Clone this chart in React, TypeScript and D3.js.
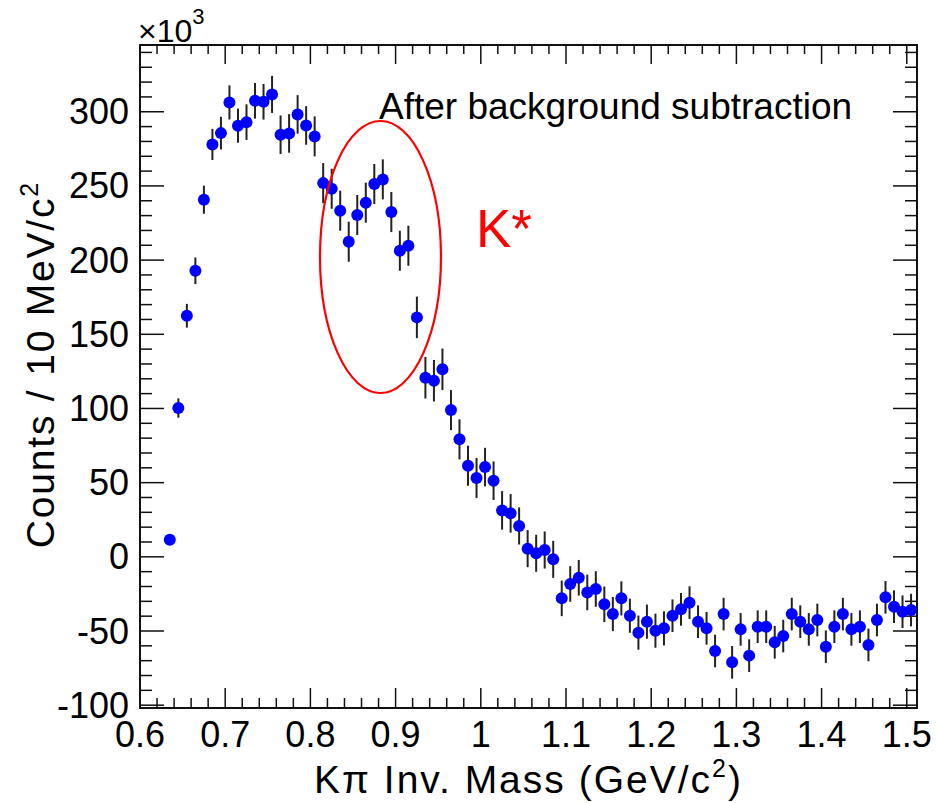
import React from "react";
import * as d3 from "d3";

const masses = [
  0.635, 0.645, 0.655, 0.665, 0.675, 0.685, 0.695, 0.705, 0.715, 0.725,
  0.735, 0.745, 0.755, 0.765, 0.775, 0.785, 0.795, 0.805, 0.815, 0.825,
  0.835, 0.845, 0.855, 0.865, 0.875, 0.885, 0.895, 0.905, 0.915, 0.925,
  0.935, 0.945, 0.955, 0.965, 0.975, 0.985, 0.995, 1.005, 1.015, 1.025,
  1.035, 1.045, 1.055, 1.065, 1.075, 1.085, 1.095, 1.105, 1.115, 1.125,
  1.135, 1.145, 1.155, 1.165, 1.175, 1.185, 1.195, 1.205, 1.215, 1.225,
  1.235, 1.245, 1.255, 1.265, 1.275, 1.285, 1.295, 1.305, 1.315, 1.325,
  1.335, 1.345, 1.355, 1.365, 1.375, 1.385, 1.395, 1.405, 1.415, 1.425,
  1.435, 1.445, 1.455, 1.465, 1.475, 1.485, 1.495, 1.505,
];

const counts = [
  11.5, 100.3, 162.5, 192.8, 240.7, 278, 285.6, 306.3, 290.6, 293,
  307.4, 306.7, 311.7, 284.5, 285.4, 298.2, 290.8, 283.4, 251.9, 248.1,
  233.3, 212.4, 230.4, 238.7, 251.3, 254.4, 232.4, 206.3, 209.7, 161.4,
  120.7, 118.7, 126.4, 98.9, 79.2, 61.4, 53.1, 60.5, 51.3, 31.3,
  29.3, 20.8, 5.5, 2.4, 4.6, -1.7, -28, -18.3, -14.1, -24,
  -21.7, -32, -38.6, -28, -39.7, -51.1, -43.7, -49.8, -48.2, -39.7,
  -35.4, -30.9, -43.7, -48.2, -63.5, -38.6, -71.1, -48.9, -66.6, -47.1,
  -47.1, -57.6, -53.4, -38.6, -43.7, -48.9, -42.6, -60.6, -47.1, -38.6,
  -48.9, -47.1, -59.4, -42.6, -27.3, -33.6, -37, -35.9,
];

const errors = [
  3, 6.5, 8, 9, 9.5, 10.5, 11, 11.5, 11.5, 12,
  12, 12, 12.5, 13, 13, 13, 13, 13.5, 13.5, 13.5,
  13.5, 13.5, 13.5, 13.5, 13.5, 13.5, 13.5, 13.5, 13.5, 14,
  14, 14, 14, 13.5, 13.5, 13.5, 13.5, 13, 13, 13,
  13, 12.5, 12.5, 12.5, 12.5, 12.5, 12, 12, 12, 12,
  12, 12, 11.5, 11.5, 11.5, 11.5, 11.5, 11.5, 11.5, 11,
  11, 11, 11, 11, 11, 11, 11, 11, 11, 11,
  11, 11, 11, 11, 11, 11, 11, 11, 11, 11,
  11, 11, 11, 11, 11, 11, 11, 11,
];

const xMajorTicks = [0.6, 0.7, 0.8, 0.9, 1.0, 1.1, 1.2, 1.3, 1.4, 1.5];
const xTickLabels = ["0.6", "0.7", "0.8", "0.9", "1", "1.1", "1.2", "1.3", "1.4", "1.5"];
const yMajorTicks = [-100, -50, 0, 50, 100, 150, 200, 250, 300];
const yTickLabels = ["-100", "-50", "0", "50", "100", "150", "200", "250", "300"];

const W = 937;
const H = 803;
const L = 140;
const R = 917;
const T = 45;
const B = 708;
const FONT = "'Liberation Sans', Arial, Helvetica, sans-serif";

export default function App() {
  const x = d3.scaleLinear().domain([0.6, 1.512]).range([L, R]);
  const y = d3.scaleLinear().domain([-101.9, 345]).range([B, T]);

  const xMinor = d3.range(0, 46).map((i) => 0.6 + i * 0.02).filter((v) => v <= 1.512);
  const yMinor = d3.range(0, 45).map((i) => -100 + i * 10).filter((v) => v <= 345);

  const axisColor = "#111";

  return (
    <svg
      width={W}
      height={H}
      style={{ position: "absolute", left: 0, top: 0, background: "#fff" }}
      fontFamily={FONT}
    >
      <rect x={0} y={0} width={W} height={H} fill="#fff" />
      {/* ticks */}
      <g stroke={axisColor} strokeWidth={1.5}>
        {xMinor.map((v, i) => {
          const isMajor = Math.abs(Math.round(v * 10) / 10 - v) < 1e-6;
          const len = isMajor ? 20 : 10;
          return (
            <g key={"xm" + i}>
              <line x1={x(v)} x2={x(v)} y1={B} y2={B - len} />
              <line x1={x(v)} x2={x(v)} y1={T} y2={T + (isMajor ? 19 : 9)} />
            </g>
          );
        })}
        {yMinor.map((v, i) => {
          const isMajor = Math.abs(v % 50) < 1e-6;
          const len = isMajor ? 24 : 12;
          return (
            <g key={"ym" + i}>
              <line x1={L} x2={L + len} y1={y(v)} y2={y(v)} />
              <line x1={R} x2={R - len} y1={y(v)} y2={y(v)} />
            </g>
          );
        })}
      </g>
      {/* frame */}
      <rect x={L} y={T} width={R - L} height={B - T} fill="none" stroke={axisColor} strokeWidth={2} />

      {/* tick labels */}
      <g fontSize={36} fill="#000">
        {xMajorTicks.map((v, i) => (
          <text key={"xl" + i} x={x(v)} y={747} textAnchor="middle">
            {xTickLabels[i]}
          </text>
        ))}
        {yMajorTicks.map((v, i) => (
          <text key={"yl" + i} x={129} y={y(v) + 12.5} textAnchor="end">
            {yTickLabels[i]}
          </text>
        ))}
      </g>

      {/* exponent */}
      <text x={138} y={42} fontSize={32} fill="#000">
        ×10
        <tspan dy={-18} fontSize={22}>3</tspan>
      </text>

      {/* axis titles */}
      <text x={(L + R) / 2} y={793} fontSize={39} letterSpacing={2} textAnchor="middle" fill="#000">
        Kπ Inv. Mass (GeV/c<tspan dy={-16} fontSize={25}>2</tspan>
        <tspan dy={16}>)</tspan>
      </text>
      <text
        transform={`translate(54, 181) rotate(-90)`}
        fontSize={39}
        letterSpacing={1.8}
        textAnchor="end"
        fill="#000"
      >
        Counts / 10 MeV/c<tspan dy={-16} fontSize={25}>2</tspan>
      </text>

      {/* error bars */}
      <g stroke="#222" strokeWidth={2}>
        {masses.map((m, i) => (
          <line
            key={"e" + i}
            x1={x(m)}
            x2={x(m)}
            y1={y(counts[i] - errors[i])}
            y2={y(counts[i] + errors[i])}
          />
        ))}
      </g>
      {/* markers */}
      <g fill="#0000ff">
        {masses.map((m, i) => (
          <circle key={"p" + i} cx={x(m)} cy={y(counts[i])} r={6} />
        ))}
      </g>

      {/* annotation */}
      <ellipse cx={380.5} cy={257} rx={60.5} ry={136} fill="none" stroke="#ff0000" strokeWidth={2.2} />
      <text x={379} y={119} fontSize={37} fill="#000">
        After background subtraction
      </text>
      <text x={476} y={247} fontSize={53} fill="#ff0000">
        K*
      </text>
    </svg>
  );
}
